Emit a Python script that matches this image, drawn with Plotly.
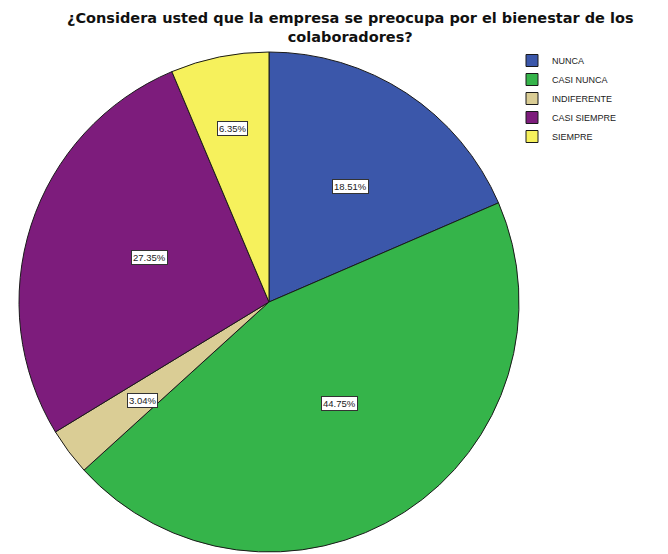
import math
import plotly.graph_objects as go

categories = ["NUNCA", "CASI NUNCA", "INDIFERENTE", "CASI SIEMPRE", "SIEMPRE"]
percentages = [18.51, 44.75, 3.04, 27.35, 6.35]
label_texts = ["18.51%", "44.75%", "3.04%", "27.35%", "6.35%"]
title_lines = ["¿Considera usted que la empresa se preocupa por el bienestar de los",
               "colaboradores?"]

colors = ["#3b57aa", "#35b44a", "#dacd95", "#7d1c7c", "#f6f15c"]
label_radius = [0.59, 0.52, 0.71, 0.58, 0.74]

W, H = 668, 554
dom_x = [19 / W, 519 / W]
dom_y = [2 / H, 502 / H]

fig = go.Figure(go.Pie(
    labels=categories,
    values=percentages,
    sort=False,
    direction="clockwise",
    rotation=0,
    marker=dict(colors=colors, line=dict(color="#1a1a1a", width=1)),
    textinfo="none",
    hoverinfo="label+percent",
    domain=dict(x=dom_x, y=dom_y),
))

# label boxes placed at each slice's mid-angle
cx = (dom_x[0] + dom_x[1]) / 2 * W
cy = (dom_y[0] + dom_y[1]) / 2 * H
R = min((dom_x[1] - dom_x[0]) * W, (dom_y[1] - dom_y[0]) * H) / 2
total = sum(percentages)
cum = 0.0
annotations = []
for v, t, f in zip(percentages, label_texts, label_radius):
    mid = (cum + v / 2) / total * 2 * math.pi
    cum += v
    px = cx + f * R * math.sin(mid)
    py = cy + f * R * math.cos(mid)
    annotations.append(dict(
        x=px / W, y=py / H, xref="paper", yref="paper",
        text=t, showarrow=False,
        font=dict(family="Liberation Sans, Arial", size=9.5, color="#222"),
        bgcolor="white", bordercolor="#333", borderwidth=1, borderpad=1,
    ))

annotations.append(dict(
    x=350 / W, y=1 - 8 / H, xref="paper", yref="paper",
    xanchor="center", yanchor="top", showarrow=False,
    text="<b>" + "<br>".join(title_lines) + "</b>",
    font=dict(family="DejaVu Sans", size=14.5, color="#111"),
))

fig.update_layout(
    width=W, height=H,
    margin=dict(l=0, r=0, t=0, b=0),
    paper_bgcolor="white",
    legend=dict(
        x=512 / W, y=1 - 46 / H, xanchor="left", yanchor="top",
        font=dict(family="Liberation Sans, Arial", size=9, color="#222"),
        itemwidth=30, tracegroupgap=0,
        bgcolor="rgba(0,0,0,0)",
    ),
    annotations=annotations,
)

fig.write_html("out.html")
